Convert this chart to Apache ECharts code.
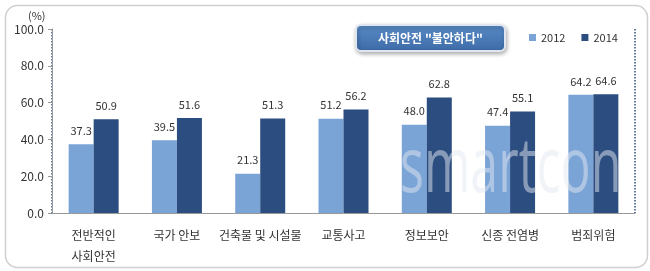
<!DOCTYPE html>
<html><head><meta charset="utf-8">
<script src="https://cdn.jsdelivr.net/npm/echarts@6/dist/echarts.min.js"></script>
<style>html,body{margin:0;padding:0;background:#fff}#c{width:650px;height:271px}</style>
</head><body><div id="c"></div>
<script>
const categories = ['전반적인\n사회안전', '국가 안보', '건축물 및 시설물', '교통사고', '정보보안', '신종 전염병', '범죄위험'];
const values2012 = [37.3, 39.5, 21.3, 51.2, 48.0, 47.4, 64.2];
const values2014 = [50.9, 51.6, 51.3, 56.2, 62.8, 55.1, 64.6];
const seriesNames = ['2012', '2014'];
const titleText = '사회안전 "불안하다"';
const unitText = '(%)';

const font = '"Noto Sans CJK KR", "Noto Sans", sans-serif';
const chart = echarts.init(document.getElementById('c'));
chart.setOption({
  animation: false,
  textStyle: { fontFamily: font },
  title: {
    text: titleText,
    left: 356, top: 25,
    backgroundColor: new echarts.graphic.LinearGradient(0, 0, 0, 1, [
      { offset: 0, color: '#5a8cc8' }, { offset: 1, color: '#3c6aa6' }]),
    borderColor: '#dfe6ef', borderWidth: 2, borderRadius: 5,
    padding: [7, 22, 7, 22],
    shadowColor: 'rgba(0,0,0,0.3)', shadowBlur: 4, shadowOffsetX: 1, shadowOffsetY: 2,
    textStyle: { color: '#fff', fontSize: 12, fontWeight: 'bold', fontFamily: font }
  },
  legend: {
    data: seriesNames, left: 524, top: 27,
    itemWidth: 7, itemHeight: 7, itemGap: 16, icon: 'rect',
    textStyle: { fontSize: 11, color: '#333', fontFamily: font }
  },
  graphic: [
    { type: 'rect', left: 3, top: 3, shape: { width: 642, height: 262, r: 12 },
      style: { fill: 'none', stroke: '#cfcfcf', lineWidth: 1.5 }, z: -1 },
    { type: 'text', left: 28, top: 10, style: { text: unitText, fill: '#333', fontSize: 11, fontFamily: font } },
    { type: 'text', x: 400, y: 132, scaleX: 0.66, z: 100,
      style: { text: 'smartcon', fill: 'rgba(225,232,240,0.5)', fontSize: 76, fontFamily: 'Open Sans, sans-serif' } }
  ],
  grid: { left: 52, right: 15, top: 29, bottom: 58 },
  xAxis: {
    type: 'category', data: categories,
    axisLine: { lineStyle: { color: '#999' } },
    axisTick: { show: false },
    axisLabel: { color: '#333', fontSize: 12, lineHeight: 21, margin: 12, interval: 0, fontFamily: font },
    splitLine: { show: true, interval: (i) => i === 1, lineStyle: { type: 'dotted', color: '#2c4e80', width: 1.5 } }
  },
  yAxis: {
    type: 'value', min: 0, max: 100, interval: 20,
    axisLine: { show: true, lineStyle: { color: '#999' } },
    axisTick: { show: true, length: 4, lineStyle: { color: '#999' } },
    splitLine: { show: false },
    axisLabel: { color: '#333', fontSize: 12, formatter: (v) => v.toFixed(1), margin: 8, fontFamily: font }
  },
  series: [
    { name: seriesNames[0], type: 'bar', data: values2012, barWidth: 25, barGap: '0%',
      itemStyle: { color: '#7aa3d6' },
      label: { show: true, position: 'top', color: '#333', fontSize: 11, distance: 8, formatter: (p) => p.value.toFixed(1) } },
    { name: seriesNames[1], type: 'bar', data: values2014, barWidth: 25,
      itemStyle: { color: '#2c4d80' },
      label: { show: true, position: 'top', color: '#333', fontSize: 11, distance: 8, formatter: (p) => p.value.toFixed(1) } }
  ]
});
</script></body></html>
